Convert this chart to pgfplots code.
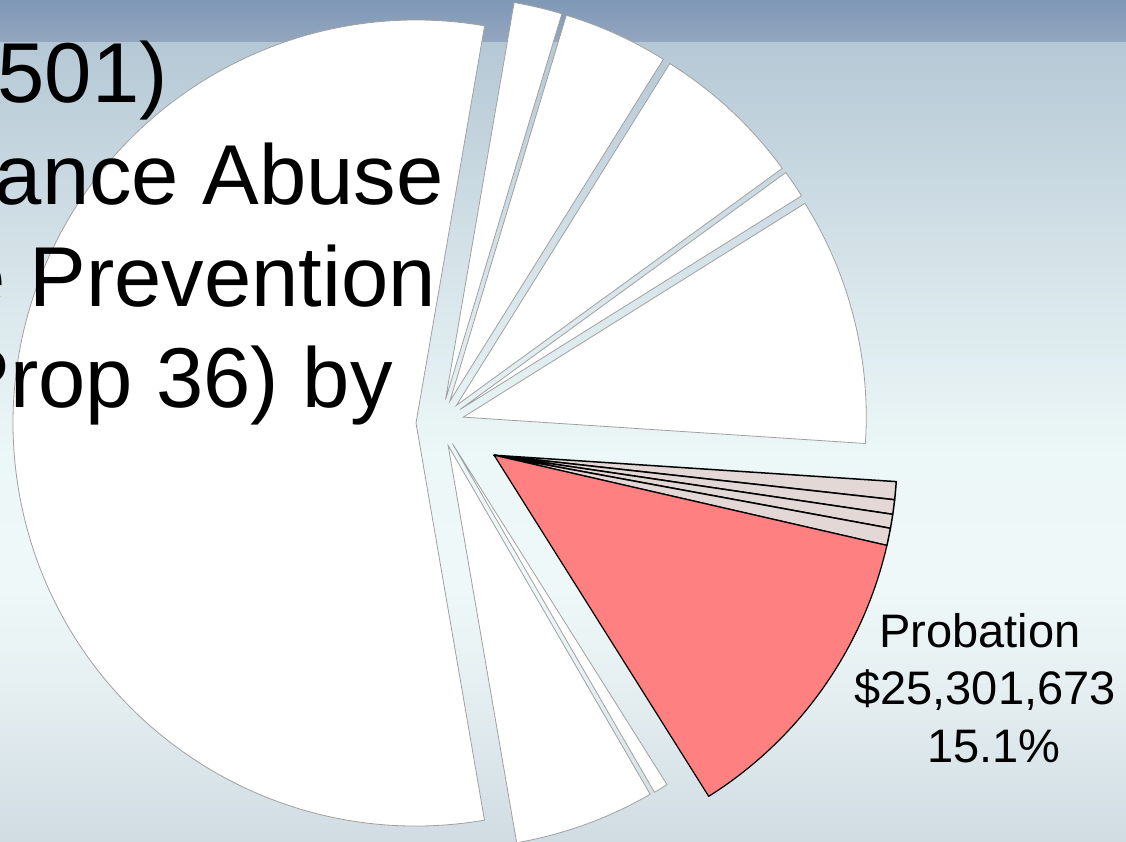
\documentclass[border=0pt]{standalone}
\usepackage{pgfplots}
\usepackage{pgfplotstable}
\pgfplotsset{compat=1.18}
\usepackage{fontspec}
\setmainfont{Liberation Sans}

\definecolor{bgBot}{HTML}{D0DCE2}
\definecolor{bgB2}{HTML}{E3EDF0}
\definecolor{bgMid}{HTML}{EFF8F8}
\definecolor{bgM2}{HTML}{ECF7F7}
\definecolor{bgU}{HTML}{D4E2E8}
\definecolor{bgTop}{HTML}{B5C8D5}
\definecolor{bandBot}{HTML}{94A6BF}
\definecolor{bandTop}{HTML}{7E98B6}
\definecolor{pinkgray}{HTML}{E4D8D6}
\definecolor{probred}{HTML}{FF8080}
\definecolor{slgray}{HTML}{A0A0A0}

\pgfdeclareverticalshading{bgshade}{100bp}{color(0bp)=(bgBot); color(25bp)=(bgBot); color(33bp)=(bgB2); color(40bp)=(bgMid); color(48bp)=(bgM2); color(60bp)=(bgU); color(72.5bp)=(bgTop); color(75bp)=(bgTop); color(100bp)=(bgTop)}

% slice shares (percent of the full circle), explosion distance and direction (999 = own bisector), style
\pgfplotstableread{
pct    exd  exa     st
1.94   24   999     0
4.22   24   999     0
6.11   24   999     0
1.11   24   999     0
9.94   24   999     0
0.72   63   -30.79  1
0.58   63   -30.79  1
0.56   63   -30.79  1
0.69   63   -30.79  1
12.47  63   -30.79  2
0.58   24   999     0
5.64   24   999     0
55.44  24   999     0
}\piedata

\def\slcum{80.2}
\pgfplotsforeachungrouped \i in {0,...,12}{%
  \pgfplotstablegetelem{\i}{pct}\of\piedata \let\slP\pgfplotsretval
  \pgfplotstablegetelem{\i}{exd}\of\piedata \let\slD\pgfplotsretval
  \pgfplotstablegetelem{\i}{exa}\of\piedata \let\slA\pgfplotsretval
  \pgfplotstablegetelem{\i}{st}\of\piedata \let\slS\pgfplotsretval
  \pgfmathsetmacro\slSA{\slcum}%
  \pgfmathsetmacro\slEA{\slcum-3.6*\slP}%
  \pgfmathsetmacro\slBA{\slA>900 ? (\slSA+\slEA)/2 : \slA}%
  \pgfmathsetmacro\slAX{440+\slD*cos(\slBA)}%
  \pgfmathsetmacro\slAY{419+\slD*sin(\slBA)}%
  \pgfmathsetmacro\slRX{\slAX+403*cos(\slSA)}%
  \pgfmathsetmacro\slRY{\slAY+403*sin(\slSA)}%
  \expandafter\xdef\csname slsa\i\endcsname{\slSA}%
  \expandafter\xdef\csname slea\i\endcsname{\slEA}%
  \expandafter\xdef\csname slax\i\endcsname{\slAX}%
  \expandafter\xdef\csname slay\i\endcsname{\slAY}%
  \expandafter\xdef\csname slrx\i\endcsname{\slRX}%
  \expandafter\xdef\csname slry\i\endcsname{\slRY}%
  \expandafter\xdef\csname slst\i\endcsname{\slS}%
  \xdef\slcum{\slEA}%
}

\tikzset{
  pie0/.style={fill=white, draw=slgray, line width=0.8pt},
  pie1/.style={fill=pinkgray, draw=black, line width=1.5pt, line join=round},
  pie2/.style={fill=probred, draw=black, line width=1.2pt, line join=round},
}

\begin{document}
\begin{tikzpicture}
\useasboundingbox (0,0) rectangle (1126pt,842pt);
\clip (0,0) rectangle (1126pt,842pt);
\begin{axis}[
  x=1pt, y=1pt,
  xmin=0, xmax=1126, ymin=0, ymax=842,
  hide axis, clip=false,
]
\shade[shading=bgshade] (axis cs:0,0) rectangle (axis cs:1126,842);
\shade[top color=bandTop, bottom color=bandBot] (axis cs:0,800) rectangle (axis cs:1126,842);

\pgfplotsinvokeforeach{0,...,12}{%
  \edef\slcmd{\noexpand\fill[pie\csname slst#1\endcsname] (axis cs:\csname slax#1\endcsname,\csname slay#1\endcsname) -- (axis cs:\csname slrx#1\endcsname,\csname slry#1\endcsname) arc[start angle=\csname slsa#1\endcsname, end angle=\csname slea#1\endcsname, radius=403pt] -- cycle;}%
  \slcmd
}

\begin{scope}[every node/.style={anchor=base east, inner sep=0pt, font=\fontsize{85}{100}\selectfont}]
\node at (axis cs:168,739) {(501)};
\node at (axis cs:444,637) {Substance Abuse};
\node at (axis cs:436,535) {Crime Prevention};
\node at (axis cs:393,434) {(Prop 36) by};
\end{scope}

\begin{scope}[every node/.style={anchor=base, inner sep=0pt, font=\fontsize{47}{56}\selectfont}]
\node at (axis cs:980,194) {Probation};
\node at (axis cs:985,137) {\$25,301,673};
\node at (axis cs:994,79) {15.1\%};
\end{scope}
\end{axis}
\end{tikzpicture}
\end{document}
